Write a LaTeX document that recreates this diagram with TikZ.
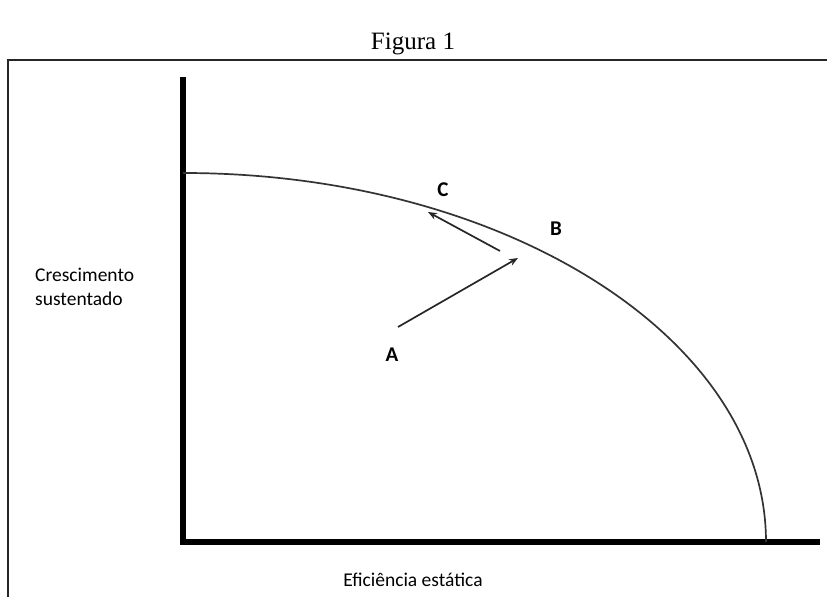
\documentclass[tikz,border=0pt]{standalone}
\usepackage{fontspec}
\setmainfont{Liberation Serif}
\newfontfamily\calibri{Carlito}
\usetikzlibrary{arrows.meta,positioning}

\tikzset{
  axis/.style={line width=6pt, line cap=rect},
  lbl/.style={font=\calibri\fontsize{19.5}{23}\selectfont, inner sep=0pt},
  pt/.style={font=\calibri\fontsize{21}{24}\selectfont, inner sep=0pt},
  move/.style={line width=1.7pt, black!85, -{Stealth[length=9pt,width=7pt]}}
}

\begin{document}
\begin{tikzpicture}[x=1pt,y=1pt]
\useasboundingbox (0,0) rectangle (827,597);

% caption and frame
\node (title) at (413,553) {\fontsize{25}{28}\selectfont Figura 1};
\draw[line width=1.8pt, black!85] (8,0) -- (8,537) -- (827,537);

% axes
\coordinate (o) at (183,55);
\coordinate (ytop) at (183,517);
\coordinate (xend) at (817,55);
\draw[axis] (ytop) -- (o) -- (xend);

% frontier
\draw[line width=1.7pt, black!80] (183,424) arc[start angle=90, end angle=0, x radius=583, y radius=369];

% points and movements
\coordinate (a0) at (398,270);
\coordinate (a1) at (518,339);
\coordinate (c0) at (500,346);
\coordinate (c1) at (428,385);
\draw[move] (a0) -- (a1);
\draw[move] (c0) -- (c1);

\node[pt] (A) at (392,242) {\textbf{A}};
\node[pt] (B) at (556,368) {\textbf{B}};
\node[pt] (C) at (443,407) {\textbf{C}};

% axis titles
\node[lbl, anchor=west, align=left] (ylab) at (35,310) {Crescimento\\[1pt]sustentado};
\node[lbl] (xlab) at (413,17) {Eficiência estática};
\end{tikzpicture}
\end{document}
